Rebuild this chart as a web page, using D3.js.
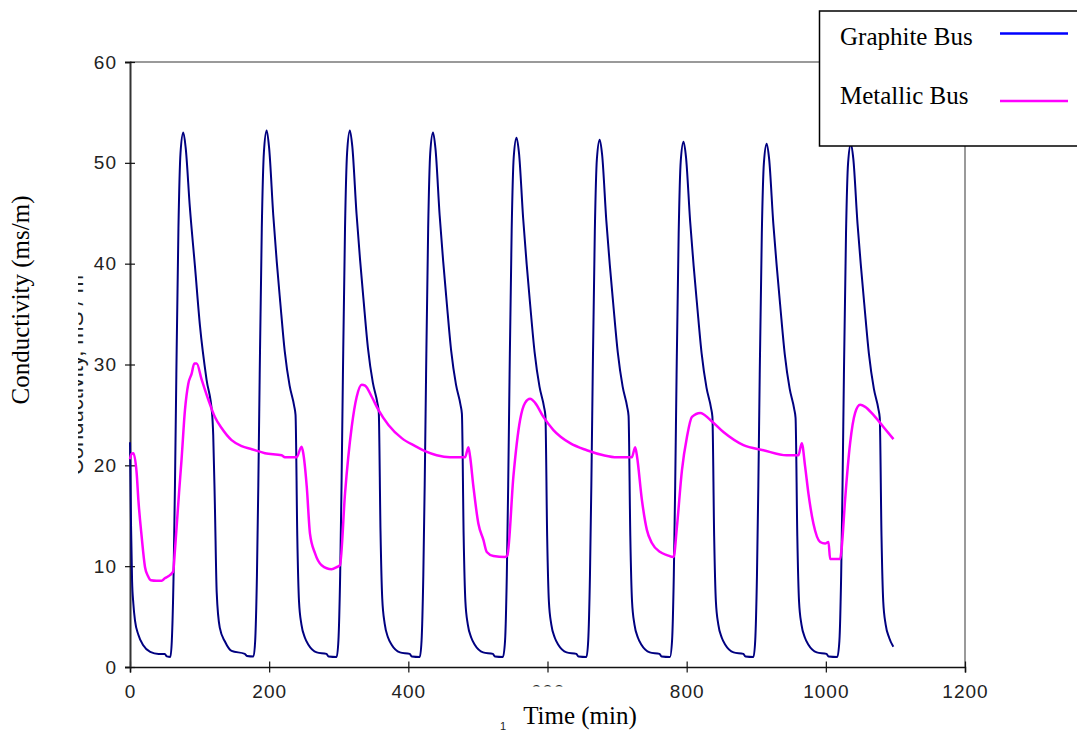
<!DOCTYPE html>
<html>
<head>
<meta charset="utf-8">
<script src="https://cdn.jsdelivr.net/npm/d3@7"></script>
<style>
body { margin: 0; background: #fff; }
svg { display: block; }
.tick text { font-family: "Liberation Sans", Arial, sans-serif; font-size: 19px; fill: #222; letter-spacing: 1px; }
.serif { font-family: "Liberation Serif", "Times New Roman", serif; fill: #000; }
</style>
</head>
<body>
<svg id="chart" width="1077" height="731"></svg>
<script>
// values: [time (min), conductivity]
var graphite = [
    [0, 22.3], [1.5, 14], [3, 8.5], [4.8, 6.3], [7.2, 4.6], [12, 3.2], [19, 2.15], [29, 1.5], [41, 1.3], [50, 1.3], [53, 1.05], [58, 1.0],
    [60.1, 2.6], [62.6, 9], [64.6, 18], [66.6, 29], [69.6, 43.5], [72.6, 51], [76.6, 53.0],
    [80, 51.5], [86, 45.6], [93.4, 39.7], [100.6, 33.8], [110, 28.5], [118, 25.1], [119.6, 23], [122, 16], [124.6, 7.4], [129, 3.9], [136.6, 2.5], [146, 1.6], [165, 1.3], [168, 1.1], [177.5, 1.05],
    [179.9, 2.6], [182.4, 9], [184.4, 18], [186.4, 29], [189.4, 43.5], [192.4, 51], [196.4, 53.2],
    [199.9, 51.5], [205.9, 44.8], [210.9, 40.2], [215.9, 36.2], [222.4, 31.3], [229.4, 27.9], [235.9, 25.9], [237.9, 25.0], [240.4, 13], [242.9, 6.5], [246.4, 4.2], [251.4, 2.9], [256.4, 2.2], [268.4, 1.45], [282.4, 1.3], [285.4, 1.05], [297, 1.0],
    [299.5, 2.6], [302, 9], [304, 18], [306, 29], [309, 43.5], [312, 51], [316, 53.2],
    [319.5, 51.6], [325.5, 45], [330.5, 40.5], [335.5, 36.5], [342, 31.6], [349, 28.2], [355.5, 26.2], [357.5, 25.3], [360, 13.5], [362.5, 6.8], [366, 4.3], [371, 2.9], [376, 2.2], [388, 1.45], [402, 1.3], [405, 1.05], [416.5, 1.0],
    [419, 2.6], [421.5, 9], [423.5, 18], [425.5, 29], [428.5, 43.5], [431.5, 51], [435.5, 53.0],
    [439, 51.4], [445, 44.8], [450, 40.3], [455, 36.3], [461.5, 31.4], [468.5, 28], [475, 26], [477, 25.1], [479.5, 13], [482, 6.5], [485.5, 4.2], [490.5, 2.9], [495.5, 2.2], [507.5, 1.45], [521.5, 1.3], [524.5, 1.05], [536, 1.0],
    [539, 2.6], [541.5, 9], [543.5, 18], [545.5, 29], [548.5, 43.3], [551.5, 50.6], [555.5, 52.5],
    [559, 51], [565, 44.5], [570, 40], [575, 36], [581.5, 31.2], [588.5, 27.8], [595, 25.8], [597, 24.9], [599.5, 13], [602, 6.5], [605.5, 4.2], [610.5, 2.9], [615.5, 2.2], [627.5, 1.45], [641.5, 1.3], [644.5, 1.05], [656, 1.0],
    [658.5, 2.6], [661, 9], [663, 18], [665, 29], [668, 43.2], [671, 50.4], [675, 52.3],
    [678.5, 50.8], [684.5, 44.3], [689.5, 39.9], [694.5, 36], [701, 31.2], [708, 27.8], [714.5, 25.8], [716.5, 24.9], [719, 13], [721.5, 6.5], [725, 4.2], [730, 2.9], [735, 2.2], [747, 1.45], [761, 1.3], [764, 1.05], [776, 1.0],
    [779, 2.6], [781.5, 9], [783.5, 18], [785.5, 29], [788.5, 43], [791.5, 50.2], [795.5, 52.1],
    [799, 50.6], [805, 44.2], [810, 39.8], [815, 35.9], [821.5, 31.1], [828.5, 27.7], [835, 25.7], [837, 24.8], [839.5, 13], [842, 6.5], [845.5, 4.2], [850.5, 2.9], [855.5, 2.2], [867.5, 1.45], [881.5, 1.3], [884.5, 1.05], [896, 1.0],
    [898.5, 2.6], [901, 9], [903, 18], [905, 29], [908, 43], [911, 50], [915, 51.9],
    [918.5, 50.4], [924.5, 44], [929.5, 39.7], [934.5, 35.8], [941, 31], [948, 27.6], [954.5, 25.6], [956.5, 24.7], [959, 13], [961.5, 6.5], [965, 4.2], [970, 2.9], [975, 2.2], [987, 1.45], [1001, 1.3], [1004, 1.05], [1016.5, 1.0],
    [1019.5, 2.6], [1022, 9], [1024, 18], [1026, 29], [1029, 43], [1032, 50], [1036, 51.9],
    [1039.5, 50.4], [1045.5, 44], [1050.5, 39.7], [1055.5, 35.8], [1062, 31], [1069, 27.6], [1075.5, 25.6], [1077.5, 24.7], [1080, 13], [1082.5, 6.5], [1086, 4.2], [1091, 2.9], [1097, 2.0]
];

var metallic = [
    [0, 20.6], [2, 21.1], [4.8, 21.2], [9.6, 19.2], [12, 16.6], [16.8, 12.9], [21.6, 9.9], [26, 9.0], [30, 8.6], [38, 8.55], [45.5, 8.55], [50, 8.8], [55, 9.0], [62, 9.45],
    [64.5, 11.5], [67, 13.9], [70.5, 17.3], [74, 20.5], [79, 25.5], [83.8, 28.1], [88.6, 29.1], [92.4, 30.1], [95.8, 30.1],
    [103, 28.5], [112.6, 26.5], [122, 24.8], [131.6, 23.7], [146, 22.5], [160.5, 21.9], [175, 21.6], [194, 21.2], [218, 21.0], [222.6, 20.8], [239.4, 20.8],
    [246.6, 21.85], [249, 21.2], [254, 17.9], [258.7, 13.2], [265.8, 11.3], [275.4, 10.1], [289.8, 9.7], [297, 9.9], [301.8, 10.1],
    [309, 17.2], [318.6, 23.8], [325.8, 26.8], [333, 28.0], [337.9, 27.9], [347.4, 26.8], [357, 25.5], [371.4, 24.0], [390.5, 22.7], [410, 21.9], [424, 21.4], [440.7, 21.0], [459.9, 20.8], [481.5, 20.8],
    [486.3, 21.8], [488.7, 20.9], [493.5, 17.9], [500.7, 14.2], [507.9, 12.6], [512.7, 11.4], [522.3, 11.0], [539, 10.9], [542.4, 11.1],
    [551, 18.9], [560.6, 24.5], [567.8, 26.2], [575, 26.6], [582.2, 26.2], [594.1, 24.8], [608.5, 23.5], [632.5, 22.2], [656.5, 21.5], [680.5, 21.0], [699.7, 20.8], [721.2, 20.8],
    [726, 21.8], [728.4, 21.0], [735.6, 16.6], [742.8, 13.6], [750, 12.3], [762, 11.4], [771.6, 11.1], [781.2, 10.9],
    [786, 13.9], [793.2, 19.5], [800.4, 22.8], [807.6, 24.8], [819.6, 25.2], [834, 24.5], [852.8, 23.3], [881.6, 22.0], [910.3, 21.5], [943.8, 21.0], [960.6, 21.0],
    [965.4, 22.2], [970.2, 19.9], [975, 17.2], [982.2, 14.2], [991.8, 12.4], [999, 12.25], [1003.8, 12.4], [1006.2, 10.7], [1020.5, 10.7],
    [1022.9, 11.9], [1027.7, 16.6], [1034.9, 22.2], [1042.1, 25.2], [1049.3, 26.0], [1056.5, 25.8], [1068.4, 25.0], [1082.8, 23.8], [1097.2, 22.6]
];

var seriesNames = ["Graphite Bus", "Metallic Bus"];
var xTicks = [0, 200, 400, 600, 800, 1000, 1200];
var yTicks = [0, 10, 20, 30, 40, 50, 60];

var svg = d3.select("#chart");

var x = d3.scaleLinear().domain([0, 1200]).range([130, 965]);
var y = d3.scaleLinear().domain([0, 60]).range([667, 62]);

// frame: grey top and right edges
svg.append("line")
    .attr("x1", x(0)).attr("x2", x(1200))
    .attr("y1", y(60)).attr("y2", y(60))
    .attr("stroke", "#9a9a9a").attr("stroke-width", 2);
svg.append("line")
    .attr("x1", x(1200)).attr("x2", x(1200))
    .attr("y1", y(60)).attr("y2", y(0))
    .attr("stroke", "#9a9a9a").attr("stroke-width", 2);

// axes, ticks cross the axis line
var xAxis = svg.append("g")
    .attr("transform", "translate(0," + y(0) + ")")
    .call(d3.axisBottom(x).tickValues(xTicks).tickSize(5.5).tickPadding(12.5).tickFormat(d3.format("d")));
xAxis.select(".domain").attr("stroke", "#111").attr("stroke-width", 1.5);
xAxis.selectAll(".tick line").attr("y1", -5.5).attr("stroke", "#111").attr("stroke-width", 1.2);

var yAxis = svg.append("g")
    .attr("transform", "translate(" + x(0) + ",0)")
    .call(d3.axisLeft(y).tickValues(yTicks).tickSize(5).tickPadding(8));
yAxis.select(".domain").attr("stroke", "#333").attr("stroke-width", 2);
yAxis.selectAll(".tick line").attr("x1", 5).attr("stroke", "#111").attr("stroke-width", 1.2);

// the 600 label is mostly hidden in the original, only its top edge shows
svg.append("clipPath").attr("id", "clip600")
    .append("rect").attr("x", -30).attr("y", 0).attr("width", 60).attr("height", 19.6);
xAxis.selectAll(".tick").filter(function(d) { return d === 600; })
    .select("text").attr("clip-path", "url(#clip600)");

var line = d3.line()
    .x(function(d) { return x(d[0]); })
    .y(function(d) { return y(d[1]); })
    .curve(d3.curveMonotoneX);

svg.append("path")
    .datum(graphite)
    .attr("d", line)
    .attr("fill", "none")
    .attr("stroke", "#000080")
    .attr("stroke-width", 2);

svg.append("path")
    .datum(metallic)
    .attr("d", line)
    .attr("fill", "none")
    .attr("stroke", "#ff00ff")
    .attr("stroke-width", 2.5);

// axis titles
svg.append("text")
    .attr("class", "serif")
    .attr("transform", "translate(29,300) rotate(-90)")
    .attr("text-anchor", "middle")
    .style("font-size", "25px")
    .text("Conductivity (ms/m)");

// faint leftover title behind, mostly cut away
svg.append("clipPath").attr("id", "clipGhost")
    .append("rect").attr("x", 78).attr("y", 0).attr("width", 20).attr("height", 731);
svg.append("g")
    .attr("clip-path", "url(#clipGhost)")
  .append("text")
    .attr("transform", "translate(83,375) rotate(-90)")
    .attr("text-anchor", "middle")
    .style("font-family", "'Liberation Sans', Arial, sans-serif")
    .style("font-size", "22px")
    .style("fill", "#222")
    .text("Conductivity, mS / m");

svg.append("text")
    .attr("class", "serif")
    .attr("x", 580).attr("y", 724)
    .attr("text-anchor", "middle")
    .style("font-size", "25px")
    .text("Time (min)");

svg.append("text")
    .attr("x", 503).attr("y", 730)
    .attr("text-anchor", "middle")
    .style("font-family", "'Liberation Sans', Arial, sans-serif")
    .style("font-size", "11px")
    .style("fill", "#222")
    .text("1");

// legend, runs off the right edge
var legend = svg.append("g");
legend.append("rect")
    .attr("x", 819.5).attr("y", 11)
    .attr("width", 300).attr("height", 135)
    .attr("fill", "#fff")
    .attr("stroke", "#000")
    .attr("stroke-width", 1.5);

var legendColors = ["#0000ff", "#ff00ff"];
var legendY = [33.5, 101];
var textY = [45, 104];
seriesNames.forEach(function(name, i) {
    legend.append("text")
        .attr("class", "serif")
        .attr("x", 840).attr("y", textY[i])
        .style("font-size", "25px")
        .text(name);
    legend.append("line")
        .attr("x1", 1000).attr("x2", 1068)
        .attr("y1", legendY[i]).attr("y2", legendY[i])
        .attr("stroke", legendColors[i])
        .attr("stroke-width", 2.5);
});
</script>
</body>
</html>
